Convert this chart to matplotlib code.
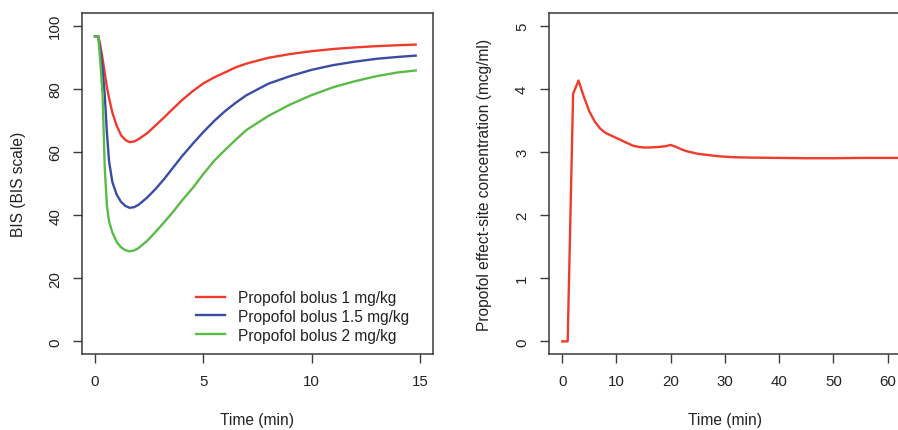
import matplotlib
matplotlib.use("Agg")
import matplotlib.pyplot as plt

plt.rcParams['font.family'] = ['Liberation Sans', 'DejaVu Sans']

# ---- Left panel data: BIS vs time (min) ----
time_bis = [0, 0.15, 0.25, 0.35, 0.45, 0.55, 0.65, 0.8, 1.0, 1.2, 1.4, 1.6, 1.8,
            2.0, 2.4, 2.8, 3.2, 3.6, 4.0, 4.5, 5.0, 5.5, 6.0, 6.5, 7.0, 8.0, 9.0,
            10.0, 11.0, 12.0, 13.0, 14.0, 14.8]
bis_1mg = [96.6, 96.6, 93.5, 89.5, 85.0, 80.5, 77.0, 72.5, 68.3, 65.3, 63.8, 63.1, 63.3,
           64.0, 65.9, 68.4, 71.0, 73.7, 76.3, 79.2, 81.7, 83.6, 85.2, 86.8, 88.0, 89.8, 91.0,
           91.9, 92.6, 93.1, 93.5, 93.8, 94.0]
bis_15mg = [96.6, 96.6, 92.0, 86.0, 78.0, 66.0, 57.0, 50.5, 46.5, 44.2, 42.9, 42.3, 42.5,
            43.2, 45.5, 48.3, 51.5, 55.0, 58.5, 62.5, 66.3, 69.8, 72.9, 75.6, 78.0, 81.6, 84.0,
            86.0, 87.5, 88.6, 89.5, 90.1, 90.5]
bis_2mg = [96.6, 96.6, 88.0, 78.0, 55.0, 43.0, 38.0, 34.5, 31.5, 29.8, 28.9, 28.5, 28.8,
           29.5, 31.8, 34.7, 37.8, 41.0, 44.5, 48.5, 53.0, 57.2, 60.6, 63.9, 67.0, 71.4, 75.0,
           78.0, 80.5, 82.4, 84.0, 85.2, 85.8]
legend_labels = ["Propofol bolus 1 mg/kg", "Propofol bolus 1.5 mg/kg", "Propofol bolus 2 mg/kg"]
line_colors = ["#EF3B2C", "#3A4DA5", "#5BBB47"]

# ---- Right panel data: effect-site concentration vs time (min) ----
time_ce = [0, 1, 2, 3, 4, 5, 6, 7, 8, 9, 10, 11, 12, 13, 14, 15, 16, 17, 18, 19, 20,
           21, 22, 23, 24, 25, 26, 27, 28, 29, 30, 32, 35, 40, 45, 50, 55, 60, 62]
ce = [0, 0, 3.92, 4.13, 3.87, 3.64, 3.48, 3.37, 3.30, 3.26, 3.22, 3.18, 3.14, 3.10, 3.08,
      3.07, 3.07, 3.075, 3.08, 3.09, 3.11, 3.08, 3.04, 3.01, 2.99, 2.97, 2.96, 2.95, 2.94,
      2.93, 2.925, 2.915, 2.91, 2.905, 2.90, 2.90, 2.905, 2.905, 2.905]

left_xticks = [0, 5, 10, 15]
left_yticks = [0, 20, 40, 60, 80, 100]
right_xticks = [0, 10, 20, 30, 40, 50, 60]
right_yticks = [0, 1, 2, 3, 4, 5]

W, H = 898, 431
fig = plt.figure(figsize=(W / 100, H / 100), dpi=100)

axcol = "#3a3a3a"
txtcol = "#222222"

def style(ax):
    for s in ax.spines.values():
        s.set_color(axcol)
        s.set_linewidth(1.1)
    ax.tick_params(direction='out', length=6.2, width=1.0, color=axcol,
                   labelsize=10.8, labelcolor=txtcol)
    ax.tick_params(axis='x', pad=8)
    ax.tick_params(axis='y', pad=8, labelrotation=90)
    for lab in ax.get_yticklabels():
        lab.set_va('center')

# Left axes
ax1 = fig.add_axes([82 / W, (H - 355) / H, (433 - 82) / W, 341 / H])
for y, c, lab in zip([bis_1mg, bis_15mg, bis_2mg], line_colors, legend_labels):
    ax1.plot(time_bis, y, color=c, lw=1.7, label=lab)
ax1.set_xlim(-0.6, 15.6)
ax1.set_ylim(-4, 104)
ax1.set_xticks(left_xticks)
ax1.set_yticks(left_yticks)
style(ax1)
ax1.set_xlabel("Time (min)", fontsize=11.2, color=txtcol, va='center')
ax1.set_ylabel("BIS (BIS scale)", fontsize=11.2, color=txtcol, va='center')
ax1.xaxis.set_label_coords(0.5, -0.1935)
ax1.yaxis.set_label_coords(-0.1823, 0.5)
leg = ax1.legend(loc='upper left', bbox_to_anchor=((196 - 82) / 351, (355 - 291) / 341),
                 frameon=False, fontsize=11.2, borderpad=0, borderaxespad=0,
                 handlelength=1.85, handletextpad=0.85, labelspacing=0.25)
for t in leg.get_texts():
    t.set_color(txtcol)

# Right axes
rx0 = 548.7
rx1 = 912.0
ax2 = fig.add_axes([rx0 / W, (H - 355) / H, (rx1 - rx0) / W, 341 / H])
ax2.plot(time_ce, ce, color=line_colors[0], lw=1.7)
ax2.set_xlim(-2.5, 64.5)
ax2.set_ylim(-0.2, 5.2)
ax2.set_xticks(right_xticks)
ax2.set_yticks(right_yticks)
style(ax2)
ax2.set_xlabel("Time (min)", fontsize=11.2, color=txtcol, va='center')
ax2.set_ylabel("Propofol effect-site concentration (mcg/ml)", fontsize=11.2, color=txtcol, va='center')
ax2.xaxis.set_label_coords((724.5 - rx0) / (rx1 - rx0), -0.1935)
ax2.yaxis.set_label_coords((485 - rx0) / (rx1 - rx0), 0.5)

fig.savefig("out.png", dpi=100)
